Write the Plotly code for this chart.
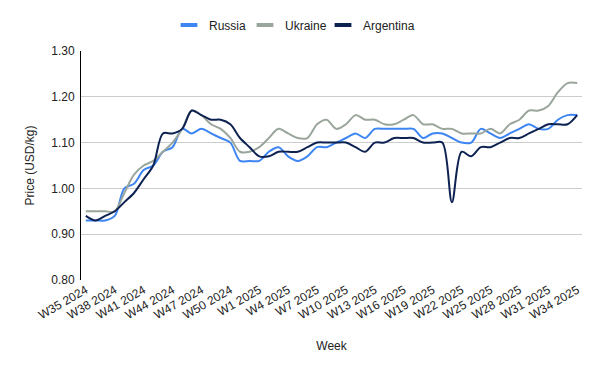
import plotly.graph_objects as go

weeks = [f"W{w} 2024" for w in range(35, 53)] + [f"W{w} 2025" for w in range(1, 35)]
tick_labels = weeks[::3]

russia = [0.93, 0.93, 0.93, 0.94, 1.00, 1.01, 1.04, 1.05, 1.08, 1.09,
          1.13, 1.12, 1.13, 1.12, 1.11, 1.10, 1.06, 1.06, 1.06, 1.08,
          1.09, 1.07, 1.06, 1.07, 1.09, 1.09, 1.10, 1.11, 1.12, 1.11,
          1.13, 1.13, 1.13, 1.13, 1.13, 1.11, 1.12, 1.12, 1.11, 1.10,
          1.10, 1.13, 1.12, 1.11, 1.12, 1.13, 1.14, 1.13, 1.13, 1.15,
          1.16, 1.16]
ukraine = [0.95, 0.95, 0.95, 0.95, 0.99, 1.03, 1.05, 1.06, 1.08, 1.10,
           1.13, 1.17, 1.16, 1.14, 1.13, 1.11, 1.08, 1.08, 1.09, 1.11,
           1.13, 1.12, 1.11, 1.11, 1.14, 1.15, 1.13, 1.14, 1.16, 1.15,
           1.15, 1.14, 1.14, 1.15, 1.16, 1.14, 1.14, 1.13, 1.13, 1.12,
           1.12, 1.12, 1.13, 1.12, 1.14, 1.15, 1.17, 1.17, 1.18, 1.21,
           1.23, 1.23]
argentina = [0.94, 0.93, 0.94, 0.95, 0.97, 0.99, 1.02, 1.05, 1.12, 1.12,
             1.13, 1.17, 1.16, 1.15, 1.15, 1.14, 1.11, 1.09, 1.07, 1.07,
             1.08, 1.08, 1.08, 1.09, 1.10, 1.10, 1.10, 1.10, 1.09, 1.08,
             1.10, 1.10, 1.11, 1.11, 1.11, 1.10, 1.10, 1.10, 0.97, 1.08,
             1.07, 1.09, 1.09, 1.10, 1.11, 1.11, 1.12, 1.13, 1.14, 1.14,
             1.14, 1.16]

series = [("Russia", russia, "#3d85f2"),
          ("Ukraine", ukraine, "#9aa69b"),
          ("Argentina", argentina, "#0e2252")]

# left edges (px within figure) of the three legend entries
legend_left_px = [161, 237, 315]

FONT = "Liberation Sans, Arial, sans-serif"
W, H = 600, 371
fig = go.Figure()
for name, vals, color in series:
    fig.add_trace(go.Scatter(
        x=weeks, y=vals, mode="lines", name=name, showlegend=False,
        line=dict(color=color, width=2, shape="spline", smoothing=0.9),
        hoverinfo="x+y+name"))

legend_ids = ["legend", "legend2", "legend3"]
for (name, vals, color), lid in zip(series, legend_ids):
    fig.add_trace(go.Scatter(
        x=[None], y=[None], mode="markers", name=name, legend=lid,
        marker=dict(symbol="line-ew-open", size=12, color=color,
                    line=dict(color=color, width=4))))

legend_common = dict(orientation="h", xanchor="left", xref="container",
                     y=1 - 17 / H, yanchor="middle", yref="container",
                     font=dict(size=12, color="#222222"), itemwidth=30,
                     bgcolor="rgba(0,0,0,0)")
legends = {}
for lid, lx in zip(legend_ids, legend_left_px):
    legends[lid] = dict(legend_common, x=lx / W)

fig.update_layout(
    width=W, height=H,
    margin=dict(l=73, r=26, t=43, b=99, autoexpand=False),
    paper_bgcolor="white", plot_bgcolor="white",
    font=dict(family=FONT, size=12, color="#222222"),
    showlegend=True,
    xaxis=dict(type="category", range=[-0.5, 51.5], automargin=False,
               tickmode="array", tickvals=tick_labels, ticktext=tick_labels,
               tickangle=-30, showgrid=False, showline=False, ticks="",
               tickfont=dict(size=12, color="#222222"),
               title=dict(text="Week", font=dict(size=12), standoff=20)),
    yaxis=dict(range=[0.8, 1.3], dtick=0.1, tickformat=".2f", automargin=False,
               showgrid=True, gridcolor="#cccccc", gridwidth=1,
               showline=True, linecolor="#000000", linewidth=1,
               zeroline=False, ticks="", ticklabelstandoff=3,
               tickfont=dict(size=12, color="#222222"),
               title=dict(text="Price (USD/kg)", font=dict(size=12), standoff=14)),
    **legends,
)

fig.write_html("out.html")
